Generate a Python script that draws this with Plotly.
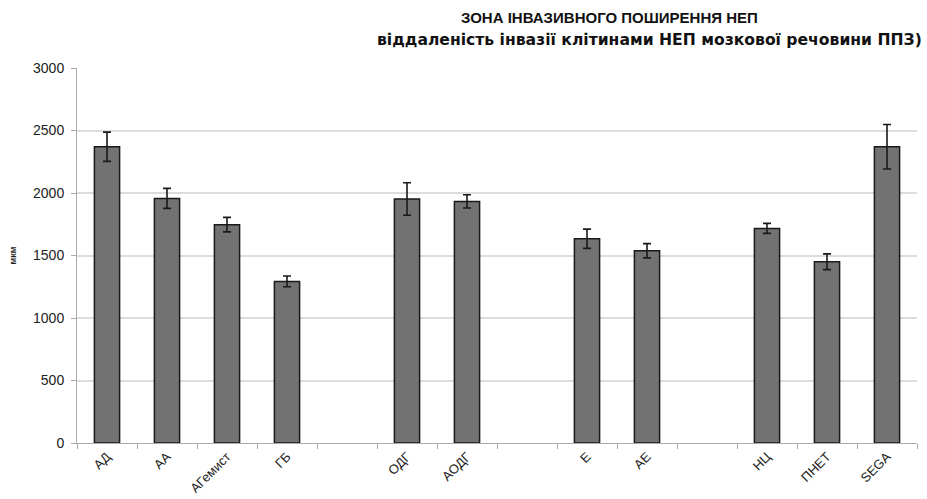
import plotly.graph_objects as go

# Tumour types (blank slots separate the groups)
categories = ["АД", "АА", "АГемист", "ГБ", " ", "ОДГ", "АОДГ", "  ",
              "Е", "АЕ", "   ", "НЦ", "ПНЕТ", "SEGA"]
mean_um = [2370, 1957, 1747, 1293, None, 1952, 1933, None,
           1634, 1538, None, 1717, 1450, 2370]
err_um = [117, 80, 58, 43, None, 130, 53, None,
          77, 57, None, 40, 63, 178]

fig = go.Figure()
fig.add_trace(go.Bar(
    x=categories,
    y=mean_um,
    width=0.42,
    marker=dict(color="#727272", line=dict(color="#1a1a1a", width=1.5)),
    error_y=dict(type="data", array=err_um, visible=True,
                 color="#1a1a1a", thickness=1.6, width=4),
))

fig.add_annotation(text="<b>ЗОНА ІНВАЗИВНОГО ПОШИРЕННЯ НЕП</b>",
                   xref="paper", yref="paper", x=(609 - 77) / 840, y=1.0,
                   yshift=51, xanchor="center", yanchor="middle",
                   showarrow=False,
                   font=dict(family="Liberation Sans, Arial", size=15, color="#111111"))
fig.add_annotation(text="<b>віддаленість інвазії клітинами НЕП мозкової речовини ППЗ)</b>",
                   xref="paper", yref="paper", x=(924 - 77) / 840, y=1.0,
                   yshift=28, xanchor="right", yanchor="middle",
                   showarrow=False,
                   font=dict(family="DejaVu Sans", size=15.6, color="#111111"))

fig.update_layout(
    width=927, height=499,
    margin=dict(l=77, r=10, t=68, b=56),
    paper_bgcolor="white", plot_bgcolor="white",
    showlegend=False,
    font=dict(family="Liberation Sans, Arial", size=12, color="#222222"),
    yaxis=dict(
        range=[0, 3000], tickvals=[0, 500, 1000, 1500, 2000, 2500, 3000],
        showgrid=True, gridcolor="#dcdcdc", gridwidth=1.5,
        showline=True, linecolor="#aaaaaa", linewidth=1,
        ticks="outside", ticklen=5, tickcolor="#aaaaaa",
        ticklabelstandoff=4,
        tickfont=dict(size=14),
        title=dict(text="<b>мкм</b>", font=dict(size=9), standoff=14),
        zeroline=False, automargin=False,
    ),
    xaxis=dict(
        type="category",
        showline=True, linecolor="#aaaaaa", linewidth=1,
        ticks="outside", tickson="boundaries", ticklen=5, tickcolor="#aaaaaa",
        tickangle=-45, tickfont=dict(size=13),
        showgrid=False, automargin=False,
    ),
)

fig.write_html("out.html")
